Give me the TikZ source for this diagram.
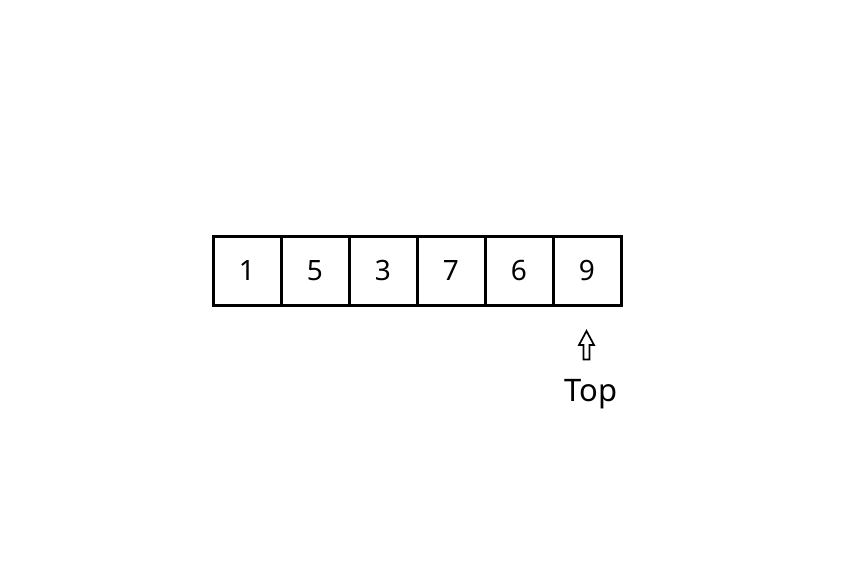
\documentclass[tikz,border=0pt]{standalone}
\usepackage{fontspec}
\setmainfont{Noto Sans}
\begin{document}
\begin{tikzpicture}[x=1pt,y=-1pt,
  cell/.style={draw=black,line width=3pt,minimum width=68pt,minimum height=69pt,inner sep=0pt,font=\fontsize{28}{30}\selectfont},
  lbl/.style={font=\fontsize{31}{36}\selectfont,inner sep=0pt}]
\useasboundingbox (0,0) rectangle (849,570);
\foreach \v [count=\i] in {1,5,3,7,6,9} {
  \node[cell] (c\i) at ({213+68*(\i-1)+34},270.5) {\v};
}
\draw[line width=1.7pt,line join=miter] (586.5,331) -- (594,345) -- (589.5,345) -- (589.5,359.5) -- (583.5,359.5) -- (583.5,345) -- (579,345) -- cycle;
\node[lbl,anchor=base] (top) at (591,401) {Top};
\end{tikzpicture}
\end{document}
